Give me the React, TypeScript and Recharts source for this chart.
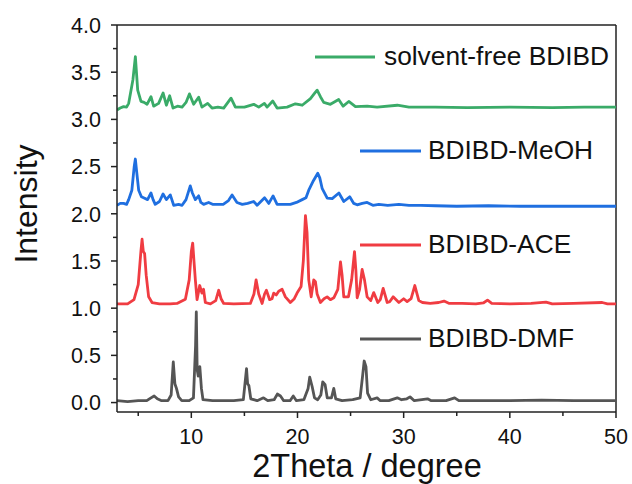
import React from 'react';
import { LineChart, Line, XAxis, YAxis, ReferenceLine, Customized } from 'recharts';

type P = [number, number];

const dmf: P[] = [[3,0.02],[4,0.01],[5,0.02],[5.8,0.02],[6.2,0.05],[6.5,0.07],[6.8,0.04],[7.2,0.02],[7.8,0.02],[8.1,0.08],[8.3,0.43],[8.45,0.2],[8.6,0.15],[8.8,0.06],[9.1,0.02],[9.8,0.02],[10.2,0.05],[10.4,0.6],[10.47,0.96],[10.55,0.35],[10.65,0.28],[10.8,0.38],[10.95,0.15],[11.1,0.03],[12,0.02],[13,0.02],[14,0.02],[14.9,0.03],[15.1,0.25],[15.2,0.36],[15.3,0.2],[15.42,0.18],[15.6,0.04],[16.2,0.02],[16.8,0.05],[17.2,0.02],[17.8,0.03],[18.1,0.09],[18.4,0.07],[18.7,0.02],[19.3,0.02],[19.6,0.07],[19.9,0.02],[20.6,0.03],[21.0,0.15],[21.15,0.27],[21.38,0.17],[21.6,0.05],[21.9,0.03],[22.2,0.08],[22.38,0.22],[22.6,0.19],[22.8,0.05],[23.2,0.05],[23.42,0.15],[23.6,0.04],[24.2,0.02],[25.2,0.03],[25.9,0.05],[26.15,0.3],[26.28,0.44],[26.45,0.38],[26.6,0.1],[26.9,0.03],[27.5,0.05],[27.8,0.02],[28.6,0.02],[29.4,0.05],[29.8,0.03],[30.3,0.04],[30.6,0.06],[31.0,0.02],[32.25,0.04],[32.6,0.02],[34,0.02],[34.8,0.05],[35.2,0.02],[37,0.02],[40,0.02],[43,0.025],[46,0.02],[50,0.02]];

const ace: P[] = [[3,1.045],[4,1.045],[4.6,1.09],[5.0,1.25],[5.25,1.6],[5.36,1.73],[5.48,1.6],[5.6,1.58],[5.75,1.35],[5.98,1.12],[6.3,1.06],[7,1.045],[8,1.045],[8.65,1.05],[9.44,1.095],[9.8,1.3],[10.0,1.6],[10.13,1.69],[10.25,1.5],[10.38,1.3],[10.54,1.09],[10.79,1.24],[11.0,1.16],[11.15,1.2],[11.32,1.06],[11.8,1.045],[12.3,1.08],[12.58,1.19],[12.8,1.1],[13.05,1.05],[14,1.045],[15.56,1.05],[15.9,1.15],[16.1,1.3],[16.35,1.15],[16.67,1.05],[16.9,1.15],[17.07,1.19],[17.38,1.09],[17.6,1.1],[17.76,1.16],[18.0,1.14],[18.23,1.18],[18.55,1.2],[18.86,1.12],[19.33,1.06],[19.7,1.1],[19.96,1.16],[20.34,1.23],[20.55,1.5],[20.75,1.98],[20.9,1.8],[21.06,1.3],[21.29,1.12],[21.53,1.3],[21.69,1.28],[21.85,1.15],[22.16,1.06],[22.5,1.1],[22.79,1.12],[23.1,1.09],[23.42,1.11],[23.8,1.2],[24.05,1.49],[24.2,1.35],[24.36,1.12],[24.8,1.12],[25.1,1.3],[25.37,1.6],[25.5,1.4],[25.62,1.11],[25.85,1.2],[26.09,1.41],[26.31,1.3],[26.56,1.12],[26.9,1.08],[27.18,1.165],[27.56,1.06],[27.8,1.09],[28.07,1.21],[28.45,1.06],[28.7,1.07],[29.01,1.12],[29.55,1.06],[30.0,1.1],[30.33,1.07],[30.7,1.1],[31.05,1.24],[31.43,1.08],[31.77,1.06],[32.5,1.05],[33.3,1.06],[33.8,1.075],[34.3,1.05],[35.5,1.05],[36.8,1.045],[37.5,1.055],[37.9,1.085],[38.3,1.05],[40,1.045],[42,1.05],[43.4,1.065],[44,1.045],[46,1.05],[48.7,1.06],[49.2,1.045],[50,1.045]];

const meoh: P[] = [[3,2.09],[3.3,2.11],[3.62,2.11],[3.9,2.1],[4.1,2.15],[4.4,2.25],[4.62,2.5],[4.73,2.58],[4.85,2.45],[5.04,2.25],[5.3,2.18],[5.5,2.17],[5.88,2.15],[6.2,2.22],[6.4,2.15],[6.6,2.1],[7.0,2.13],[7.34,2.21],[7.65,2.15],[8.02,2.2],[8.34,2.09],[8.8,2.1],[9.13,2.09],[9.5,2.15],[9.9,2.295],[10.1,2.22],[10.38,2.15],[10.69,2.19],[10.9,2.12],[11.16,2.1],[11.63,2.12],[12.0,2.1],[12.42,2.1],[13.0,2.1],[13.5,2.14],[13.84,2.2],[14.3,2.12],[14.8,2.1],[15.3,2.11],[15.87,2.13],[16.2,2.09],[16.9,2.17],[17.3,2.11],[17.7,2.19],[18.08,2.1],[18.7,2.1],[19.33,2.1],[19.9,2.12],[20.44,2.15],[20.8,2.17],[21.06,2.25],[21.5,2.35],[21.91,2.43],[22.1,2.38],[22.32,2.27],[22.8,2.165],[23.27,2.16],[23.9,2.22],[24.36,2.13],[24.92,2.18],[25.3,2.11],[25.62,2.095],[26.1,2.11],[26.56,2.12],[27.1,2.09],[27.66,2.1],[28.5,2.09],[29.55,2.1],[30.5,2.09],[31.6,2.09],[33,2.085],[35,2.08],[38,2.085],[41,2.08],[44,2.08],[47,2.08],[50,2.08]];

const solventFree: P[] = [[3,3.1],[3.3,3.12],[3.62,3.135],[3.9,3.13],[4.1,3.17],[4.5,3.42],[4.73,3.665],[4.95,3.31],[5.26,3.19],[5.55,3.18],[5.83,3.16],[6.2,3.24],[6.45,3.14],[6.92,3.17],[7.34,3.28],[7.65,3.15],[7.96,3.25],[8.28,3.12],[8.7,3.14],[9.13,3.13],[9.5,3.18],[9.82,3.27],[10.22,3.16],[10.69,3.235],[11.0,3.13],[11.54,3.17],[11.95,3.12],[12.5,3.13],[13.05,3.12],[13.74,3.225],[14.15,3.13],[15.0,3.13],[15.88,3.16],[16.35,3.13],[16.88,3.17],[17.14,3.13],[17.67,3.195],[18.08,3.12],[19.02,3.13],[19.8,3.165],[20.44,3.15],[21.22,3.22],[21.6,3.275],[21.85,3.31],[22.16,3.24],[22.47,3.18],[23.1,3.16],[23.88,3.21],[24.3,3.14],[24.83,3.19],[25.46,3.135],[26.56,3.14],[27.5,3.13],[29.4,3.15],[30.5,3.13],[33,3.13],[36,3.125],[40,3.13],[44,3.125],[47,3.13],[50,3.13]];

const seriesNames = ['solvent-free BDIBD', 'BDIBD-MeOH', 'BDIBD-ACE', 'BDIBD-DMF'];
const seriesColors = ['#3aab68', '#1f6fe0', '#f03c42', '#555555'];
const xTicks = [5, 10, 15, 20, 25, 30, 35, 40, 45, 50];
const yTicks = [0, 0.25, 0.5, 0.75, 1, 1.25, 1.5, 1.75, 2, 2.25, 2.5, 2.75, 3, 3.25, 3.5, 3.75, 4];

const FONT = 'Liberation Sans, Arial, sans-serif';
const AXIS = '#222';

const toPts = (a: P[]) => a.map(([x, y]) => ({ x, y }));

const XTick = (props: any) => {
  const { x, y, payload } = props;
  const major = payload.value % 10 === 0;
  return (
    <g>
      <line x1={x} x2={x} y1={y} y2={y + (major ? 6 : 4)} stroke={AXIS} strokeWidth={1.5} />
      {major && (
        <text x={x} y={y + 32} textAnchor="middle" fontSize={21.5} fill="#111" fontFamily={FONT}>
          {payload.value}
        </text>
      )}
    </g>
  );
};

const YTick = (props: any) => {
  const { x, y, payload } = props;
  const v = payload.value;
  const major = Math.abs(v * 2 - Math.round(v * 2)) < 1e-6;
  return (
    <g>
      <line x1={x} x2={x - (major ? 6 : 4)} y1={y} y2={y} stroke={AXIS} strokeWidth={1.5} />
      {major && (
        <text x={x - 16} y={y} dy="0.36em" textAnchor="end" fontSize={21.5} fill="#111" fontFamily={FONT}>
          {v.toFixed(1)}
        </text>
      )}
    </g>
  );
};

const legendPos = [
  { lx1: 315, lx2: 375, ly: 57, tx: 384, ty: 65 },
  { lx1: 360, lx2: 421, ly: 151, tx: 428, ty: 159 },
  { lx1: 360, lx2: 421, ly: 245, tx: 428, ty: 253 },
  { lx1: 360, lx2: 421, ly: 339, tx: 428, ty: 347 },
];

const Overlay = () => (
  <g>
    {legendPos.map((p, i) => (
      <g key={i}>
        <line x1={p.lx1} x2={p.lx2} y1={p.ly} y2={p.ly} stroke={seriesColors[i]} strokeWidth={2.8} />
        <text x={p.tx} y={p.ty} fontSize={26.3} fill="#111" fontFamily={FONT}>
          {seriesNames[i]}
        </text>
      </g>
    ))}
    <text x={367} y={477} textAnchor="middle" fontSize={32.5} fill="#111" fontFamily={FONT}>
      2Theta / degree
    </text>
    <text
      x={37}
      y={204}
      transform="rotate(-90 37 204)"
      textAnchor="middle"
      fontSize={32}
      fill="#111"
      fontFamily={FONT}
    >
      Intensity
    </text>
  </g>
);

export default function App() {
  const all = [solventFree, meoh, ace, dmf];
  return (
    <div style={{ position: 'absolute', left: 0, top: 0, width: 632, height: 484, background: '#fff' }}>
      <LineChart width={632} height={484} margin={{ top: 25, right: 16, bottom: 0, left: 0 }}>
        <XAxis
          dataKey="x"
          type="number"
          domain={[3, 50]}
          allowDataOverflow
          ticks={xTicks}
          interval={0}
          tick={<XTick />}
          tickLine={false}
          tickSize={0}
          tickMargin={0}
          height={72}
          stroke={AXIS}
          strokeWidth={1.5}
        />
        <YAxis
          type="number"
          domain={[-0.1, 4]}
          allowDataOverflow
          ticks={yTicks}
          interval={0}
          tick={<YTick />}
          tickLine={false}
          tickSize={0}
          tickMargin={0}
          width={117}
          stroke={AXIS}
          strokeWidth={1.5}
        />
        <ReferenceLine y={4} stroke={AXIS} strokeWidth={1.5} />
        <ReferenceLine x={50} stroke={AXIS} strokeWidth={1.5} />
        {all.map((s, i) => (
          <Line
            key={seriesNames[i]}
            data={toPts(s)}
            dataKey="y"
            name={seriesNames[i]}
            type="linear"
            dot={false}
            stroke={seriesColors[i]}
            strokeWidth={2.8}
            strokeLinejoin="round"
            isAnimationActive={false}
          />
        ))}
        <Customized component={Overlay} />
      </LineChart>
    </div>
  );
}
